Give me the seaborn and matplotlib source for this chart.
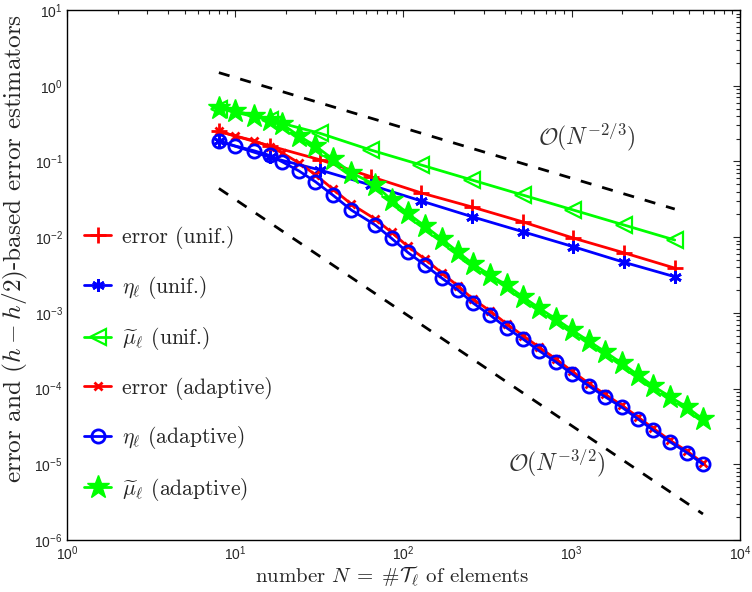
import matplotlib
matplotlib.use('Agg')
import matplotlib.pyplot as plt
import numpy as np
import pandas as pd
import seaborn as sns

# uniform refinement
n_unif = [8, 16, 32, 64, 128, 256, 512, 1024, 2048, 4096]
err_unif = [0.25, 0.161, 0.105, 0.063, 0.0383, 0.025, 0.0159, 0.0097, 0.0062, 0.0039]
eta_unif = [0.186, 0.114, 0.077, 0.0487, 0.030, 0.0186, 0.0118, 0.00747, 0.00465, 0.0030]
mu_unif = [0.50, 0.352, 0.235, 0.1415, 0.0896, 0.0568, 0.036, 0.0228, 0.01445, 0.00916]

# adaptive refinement
n_adap = [8, 10, 13, 16, 19, 24, 30, 38, 49, 68, 85, 106, 134, 169, 211, 259, 327,
          412, 513, 639, 806, 1003, 1266, 1576, 1989, 2476, 3041, 3837, 4842, 6027]
err_adap = [0.25, 0.217, 0.1875, 0.157, 0.130, 0.0953, 0.0667, 0.0432, 0.0273, 0.0173,
            0.01156, 0.00755, 0.00514, 0.00336, 0.00226, 0.00152, 0.00106, 0.00071,
            0.000501, 0.000352, 0.000245, 0.00017, 0.0001165, 8.4e-5, 6.0e-5, 4.2e-5,
            3.0e-5, 2.07e-5, 1.49e-5, 1.04e-5]
eta_adap = [0.186, 0.160, 0.138, 0.120, 0.0991, 0.0746, 0.0539, 0.036, 0.0228, 0.01445,
            0.00964, 0.0063, 0.00428, 0.00288, 0.0020, 0.00135, 0.000935, 0.00063,
            0.000451, 0.000316, 0.000224, 0.000156, 0.000108, 7.8e-5, 5.65e-5, 3.96e-5,
            2.83e-5, 1.98e-5, 1.42e-5, 1.0e-5]
mu_adap = [0.503, 0.470, 0.398, 0.358, 0.312, 0.2165, 0.160, 0.1076, 0.0713, 0.0488,
           0.0309, 0.0206, 0.0140, 0.00944, 0.00636, 0.00441, 0.00316, 0.0023, 0.00162,
           0.00116, 0.000828, 0.000593, 0.000422, 0.000306, 0.000215, 0.000151, 0.000108,
           7.8e-5, 5.65e-5, 3.92e-5]

# reference slopes
ref_23_n = [8, 4096]
ref_23_v = [1.49, 0.0235]
ref_32_n = [8, 6027]
ref_32_v = [0.044, 2.2e-6]

sns.set_style('white')
plt.rcParams['font.family'] = ['Liberation Sans', 'DejaVu Sans']
plt.rcParams['mathtext.fontset'] = 'cm'
plt.rcParams['axes.unicode_minus'] = False

fig = plt.figure(figsize=(7.52, 5.92), dpi=100)
ax = fig.add_axes([0.089, 0.088, 0.895, 0.895])

series = [
    (n_unif, err_unif, 'error (unif.)', 'red', '+', 12, 2.0, 'red'),
    (n_unif, eta_unif, r'$\eta_\ell$ (unif.)', 'blue', (6, 2, 0), 9, 2.0, 'blue'),
    (n_unif, mu_unif, r'$\widetilde{\mu}_\ell$ (unif.)', 'lime', '<', 11, 1.6, 'none'),
    (n_adap, err_adap, 'error (adaptive)', 'red', 'x', 6, 2.0, 'red'),
    (n_adap, eta_adap, r'$\eta_\ell$ (adaptive)', 'blue', 'o', 9.5, 2.0, 'none'),
    (n_adap, mu_adap, r'$\widetilde{\mu}_\ell$ (adaptive)', 'lime', '*', 17, 1.0, 'lime'),
]

for n, v, lab, col, mk, ms, mew, mfc in series:
    df = pd.DataFrame({'N': n, 'val': v})
    sns.lineplot(data=df, x='N', y='val', ax=ax, color=col, marker=mk, markersize=ms,
                 markeredgewidth=mew, markerfacecolor=mfc, markeredgecolor=col,
                 linewidth=2.0, label=lab, sort=False)

ax.plot(ref_23_n, ref_23_v, '--', color='black', linewidth=2.0, dashes=(4, 4))
ax.plot(ref_32_n, ref_32_v, '--', color='black', linewidth=2.0, dashes=(4, 4))

ax.text(1233, 0.21, r'$\mathcal{O}(N^{-2/3})$', fontsize=17, color='#333333',
        ha='center', va='center')
ax.text(817, 1.04e-5, r'$\mathcal{O}(N^{-3/2})$', fontsize=17, color='#333333',
        ha='center', va='center')

ax.set_xscale('log')
ax.set_yscale('log')
ax.set_xlim(1, 1e4)
ax.set_ylim(1e-6, 10)

ax.set_xlabel(r'number $N\;=\;\#\mathcal{T}_\ell$ of elements', fontsize=15,
              family='cmr10')
ax.xaxis.set_label_coords(0.484, -0.047)
ax.set_ylabel(r'error and $(h-h/2)$-based error estimators', fontsize=18.2,
              family='cmr10')
ax.yaxis.set_label_coords(-0.055, 0.55)

ax.tick_params(which='both', direction='in', top=True, right=True, labelsize=10,
               width=0.8, pad=3)
ax.tick_params(which='major', length=5)
ax.tick_params(which='minor', length=3)
for s in ax.spines.values():
    s.set_linewidth(1.0)
    s.set_color('black')

leg = ax.legend(loc='upper left', bbox_to_anchor=(-0.003, 0.629), frameon=False,
                prop={'family': 'cmr10', 'size': 15.5}, labelspacing=1.14,
                handlelength=1.25, handletextpad=0.5)

fig.savefig('out.png', dpi=100)
